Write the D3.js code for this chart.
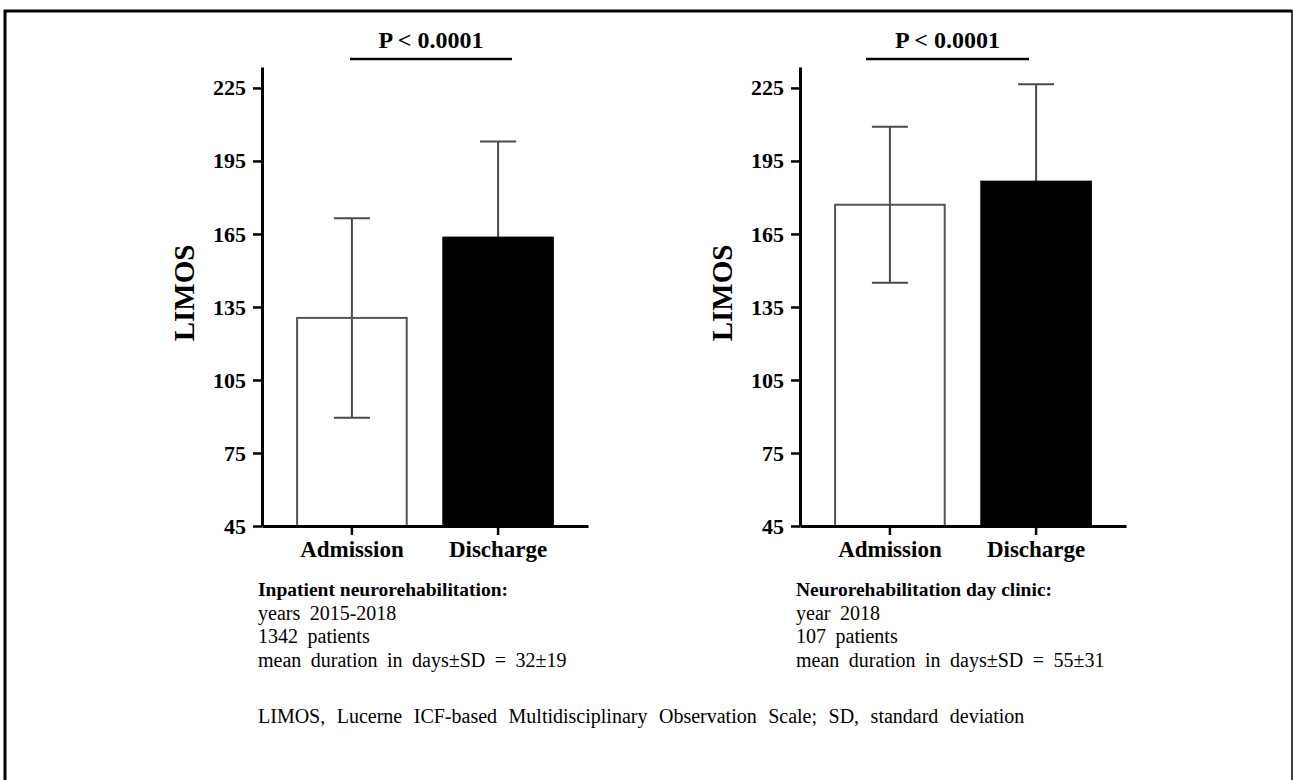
<!DOCTYPE html>
<html>
<head>
<meta charset="utf-8">
<script src="https://cdn.jsdelivr.net/npm/d3@7"></script>
<style>
  body { margin: 0; background: #fff; }
  svg text { font-family: "Liberation Serif", "Times New Roman", serif; fill: #000; }
</style>
</head>
<body>
<svg id="chart" width="1293" height="780"></svg>
<script>
// data
const categories = ["Admission", "Discharge"];
const inpatientMeans = [130.5, 163.5];
const inpatientSD = [41, 39.5];
const dayClinicMeans = [177, 186.5];
const dayClinicSD = [32, 40];
const yTicks = [45, 75, 105, 135, 165, 195, 225];
const pLabel = "P < 0.0001";

const inpatientNotes = ["Inpatient neurorehabilitation:", "years 2015-2018", "1342 patients", "mean duration in days\u00b1SD = 32\u00b119"];
const dayClinicNotes = ["Neurorehabilitation day clinic:", "year 2018", "107 patients", "mean duration in days\u00b1SD = 55\u00b131"];
const footnote = "LIMOS, Lucerne ICF-based Multidisciplinary Observation Scale; SD, standard deviation";

const svg = d3.select("#chart");

// outer frame (bottom edge runs off the picture)
svg.append("line").attr("x1", 5).attr("x2", 5).attr("y1", 10).attr("y2", 790)
  .attr("stroke", "#000").attr("stroke-width", 3);
svg.append("line").attr("x1", 4).attr("x2", 1292).attr("y1", 11).attr("y2", 11)
  .attr("stroke", "#000").attr("stroke-width", 3);
svg.append("line").attr("x1", 1292).attr("x2", 1292).attr("y1", 10).attr("y2", 790)
  .attr("stroke", "#000").attr("stroke-width", 1.5);

const y = d3.scaleLinear([45, 233.6], [526, 67]);

function drawPanel(left, means, sds, sig, notes) {
  const g = svg.append("g").attr("transform", `translate(${left},0)`);
  const x = d3.scaleBand(categories, [0, 326]).paddingInner(0.25).paddingOuter(0.24);
  const bw = x.bandwidth();

  // error bars first, so the black bar hides its lower whisker
  const err = g.selectAll("g.err")
    .data(categories)
    .enter().append("g")
      .attr("class", "err")
      .attr("stroke", "#4a4a4a")
      .attr("stroke-width", 2);
  err.append("line")
    .attr("x1", d => x(d) + bw / 2).attr("x2", d => x(d) + bw / 2)
    .attr("y1", (d, i) => y(means[i] - sds[i]))
    .attr("y2", (d, i) => y(means[i] + sds[i]));
  err.append("line")
    .attr("x1", d => x(d) + bw / 2 - 18).attr("x2", d => x(d) + bw / 2 + 18)
    .attr("y1", (d, i) => y(means[i] + sds[i]))
    .attr("y2", (d, i) => y(means[i] + sds[i]));
  err.append("line")
    .attr("x1", d => x(d) + bw / 2 - 18).attr("x2", d => x(d) + bw / 2 + 18)
    .attr("y1", (d, i) => y(means[i] - sds[i]))
    .attr("y2", (d, i) => y(means[i] - sds[i]));

  // bars (open bar left unfilled so its whisker shows through)
  g.selectAll("rect.bar")
    .data(categories)
    .enter().append("rect")
      .attr("class", "bar")
      .attr("x", d => x(d))
      .attr("y", (d, i) => y(means[i]))
      .attr("width", bw)
      .attr("height", (d, i) => y(45) - y(means[i]))
      .attr("fill", (d, i) => i === 0 ? "none" : "#000")
      .attr("stroke", (d, i) => i === 0 ? "#555" : "#000")
      .attr("stroke-width", 2);

  // axes
  const yAxis = g.append("g")
    .call(d3.axisLeft(y).tickValues(yTicks).tickSize(9).tickPadding(7).tickSizeOuter(0));
  yAxis.select(".domain").attr("stroke-width", 3);
  yAxis.selectAll(".tick line").attr("stroke-width", 2.5);
  yAxis.selectAll(".tick text")
    .attr("font-size", 22).attr("font-weight", "bold")
    .style("font-family", "'Liberation Serif', serif");

  const xAxis = g.append("g")
    .attr("transform", `translate(0,${y(45)})`)
    .call(d3.axisBottom(x).tickSize(9).tickPadding(6).tickSizeOuter(0));
  xAxis.select(".domain").attr("stroke-width", 3);
  xAxis.selectAll(".tick line").attr("stroke-width", 2.5);
  xAxis.selectAll(".tick text")
    .attr("font-size", 23).attr("font-weight", "bold")
    .style("font-family", "'Liberation Serif', serif");

  // y label
  g.append("text")
    .attr("transform", `translate(${-78},${293}) rotate(-90)`)
    .attr("text-anchor", "middle")
    .attr("dominant-baseline", "central")
    .attr("font-size", 29)
    .attr("font-weight", "bold")
    .text("LIMOS");

  // significance bracket
  g.append("line")
    .attr("x1", sig[0]).attr("x2", sig[1]).attr("y1", 59).attr("y2", 59)
    .attr("stroke", "#000").attr("stroke-width", 2.5);
  g.append("text")
    .attr("x", (sig[0] + sig[1]) / 2)
    .attr("y", 48)
    .attr("text-anchor", "middle")
    .attr("font-size", 24)
    .attr("font-weight", "bold")
    .text(pLabel);

  // notes under the panel
  g.selectAll("text.note")
    .data(notes)
    .enter().append("text")
      .attr("class", "note")
      .attr("x", -4)
      .attr("y", (d, i) => 596 + i * 23.7)
      .attr("font-size", (d, i) => i === 0 ? 19.5 : 20)
      .attr("font-weight", (d, i) => i === 0 ? "bold" : "normal")
      .attr("word-spacing", (d, i) => i === 0 ? 0 : 4.5)
      .text(d => d);
}

drawPanel(262, inpatientMeans, inpatientSD, [88, 250], inpatientNotes);
drawPanel(800, dayClinicMeans, dayClinicSD, [66, 229], dayClinicNotes);

svg.append("text")
  .attr("x", 258)
  .attr("y", 723)
  .attr("font-size", 20)
  .attr("word-spacing", 6.5)
  .text(footnote);
</script>
</body>
</html>
